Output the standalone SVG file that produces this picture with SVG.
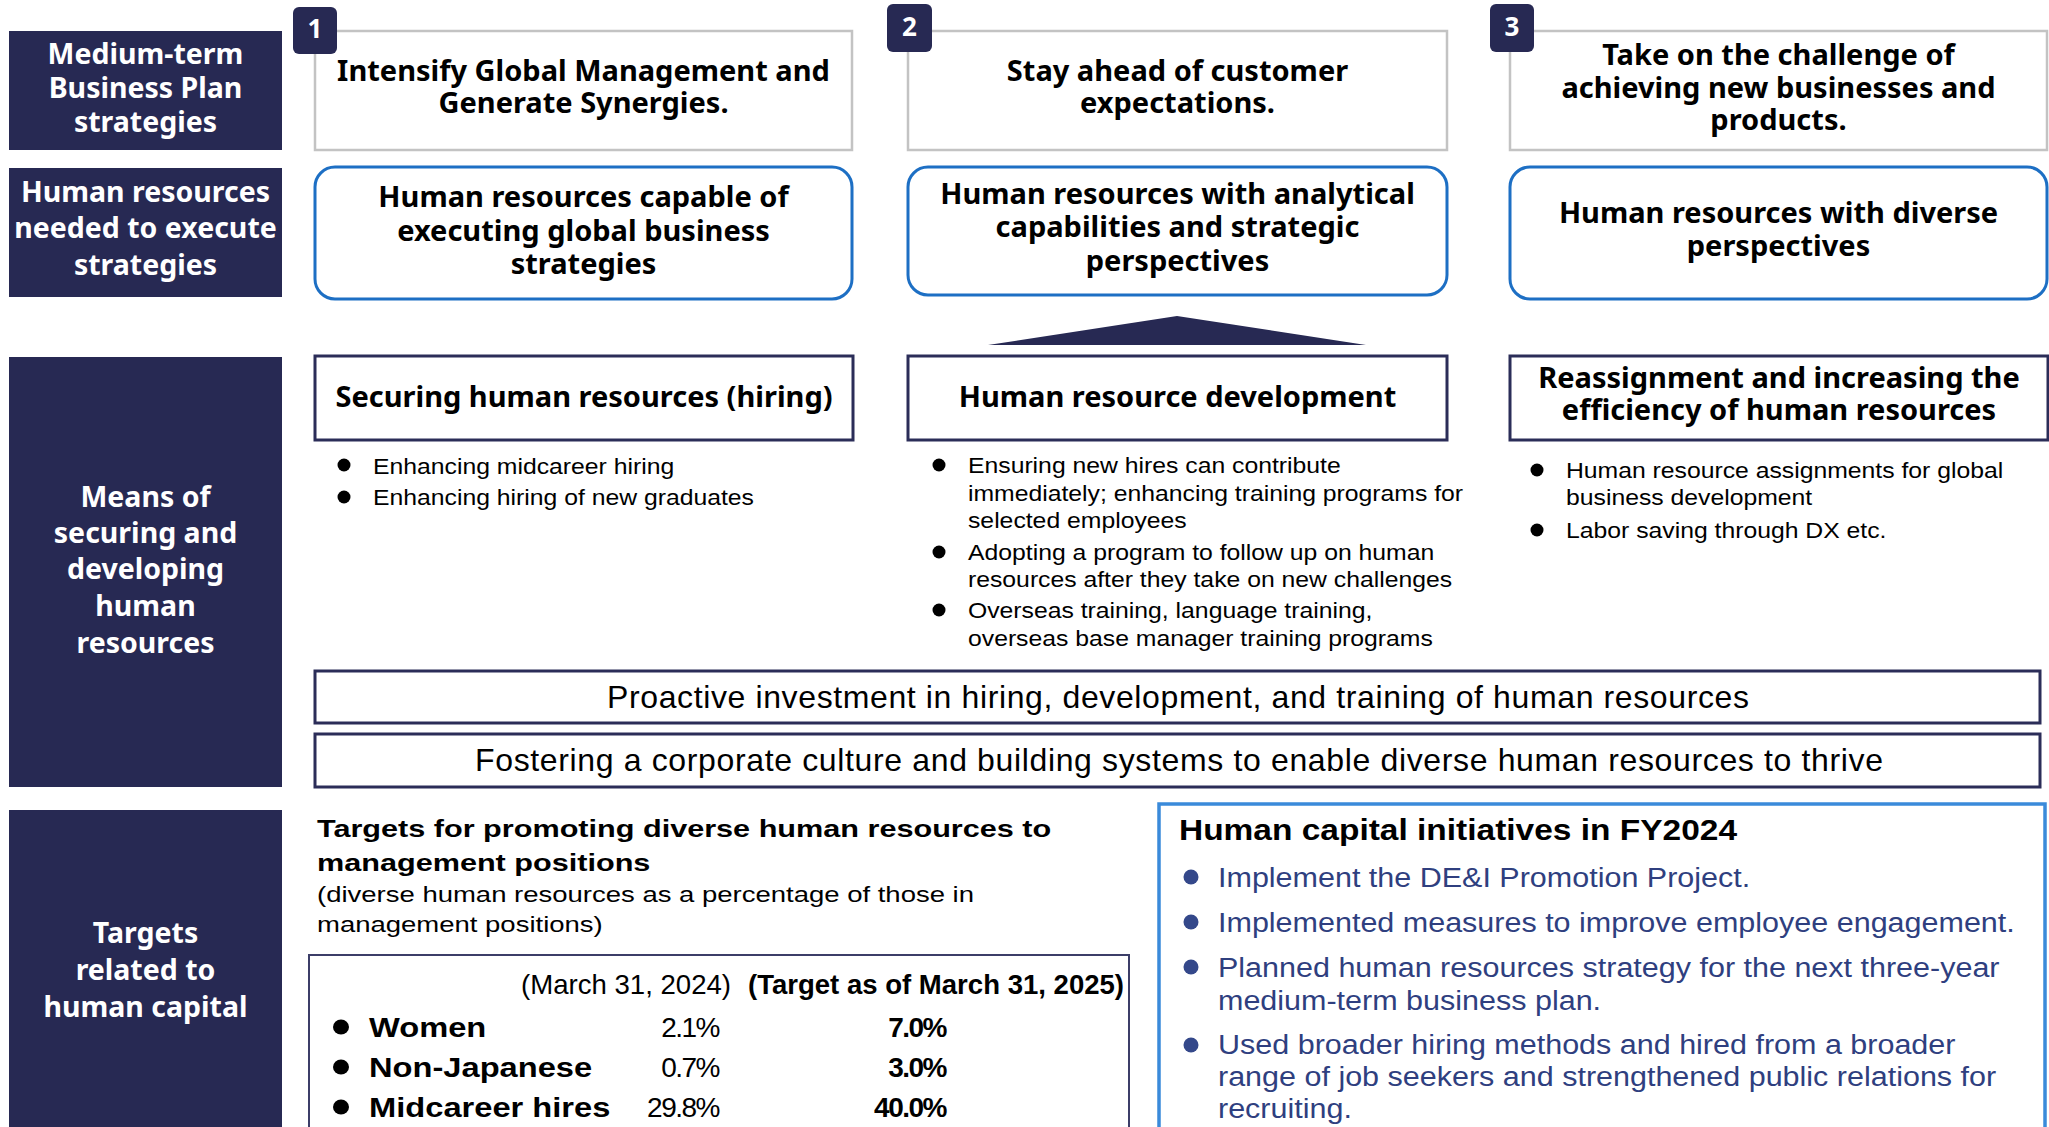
<svg xmlns="http://www.w3.org/2000/svg" width="2049" height="1127" viewBox="0 0 2049 1127">
  <defs>
    <style>
      .side { fill: #272953; }
      .side-t { font-family: "Noto Sans", "Liberation Sans", sans-serif; font-weight: 700; font-size: 28.5px; fill: #ffffff; text-anchor: middle; }
      .plan { fill: #ffffff; stroke: #c3c3c3; stroke-width: 2.5; }
      .badge { fill: #272953; }
      .badge-t { font-family: "Noto Sans", "Liberation Sans", sans-serif; font-weight: 700; font-size: 26px; fill: #ffffff; text-anchor: middle; }
      .head { font-family: "Noto Sans", "Liberation Sans", sans-serif; font-weight: 700; font-size: 29px; fill: #000000; text-anchor: middle; }
      .need { fill: #ffffff; stroke: #1d6fc4; stroke-width: 3; }
      .means { fill: #ffffff; stroke: #2b2d58; stroke-width: 3; }
      .body { font-family: "Liberation Sans", Arial, sans-serif; font-size: 22.5px; fill: #000000; }
      .dot { fill: #000000; }
      .bar-t { font-family: "Liberation Sans", Arial, sans-serif; font-size: 32px; fill: #000000; text-anchor: middle; }
      .tgt-h { font-family: "Liberation Sans", Arial, sans-serif; font-weight: 700; font-size: 24.5px; fill: #000000; }
      .tgt-s { font-family: "Liberation Sans", Arial, sans-serif; font-size: 22px; fill: #000000; }
      .tbl { fill: #ffffff; stroke: #3c3e68; stroke-width: 2; }
      .col-h { font-family: "Liberation Sans", Arial, sans-serif; font-size: 28px; fill: #000000; }
      .row-t { font-family: "Liberation Sans", Arial, sans-serif; font-weight: 700; font-size: 27px; fill: #000000; }
      .val { font-family: "Liberation Sans", Arial, sans-serif; font-size: 28px; fill: #000000; text-anchor: end; letter-spacing: -1.5px; }
      .val-b { font-family: "Liberation Sans", Arial, sans-serif; font-weight: 700; font-size: 28px; fill: #000000; text-anchor: end; letter-spacing: -1.5px; }
      .init { fill: #ffffff; stroke: #3a8ada; stroke-width: 3.5; }
      .init-h { font-family: "Liberation Sans", Arial, sans-serif; font-weight: 700; font-size: 30px; fill: #000000; }
      .init-t { font-family: "Liberation Sans", Arial, sans-serif; font-size: 28px; fill: #2f3f7f; }
      .init-dot { fill: #34488a; }
    </style>
  </defs>

  <rect width="2049" height="1127" fill="#ffffff"/>

  <!-- Row labels on the left -->
  <g id="label-plan">
    <rect class="side" x="9" y="31" width="273" height="119"/>
    <text class="side-t" x="145.5" y="64">Medium-term</text>
    <text class="side-t" x="145.5" y="98">Business Plan</text>
    <text class="side-t" x="145.5" y="132">strategies</text>
  </g>
  <g id="label-needed">
    <rect class="side" x="9" y="168" width="273" height="129"/>
    <text class="side-t" x="145.5" y="202">Human resources</text>
    <text class="side-t" x="145.5" y="238">needed to execute</text>
    <text class="side-t" x="145.5" y="275">strategies</text>
  </g>
  <g id="label-means">
    <rect class="side" x="9" y="357" width="273" height="430"/>
    <text class="side-t" x="145.5" y="507">Means of</text>
    <text class="side-t" x="145.5" y="543">securing and</text>
    <text class="side-t" x="145.5" y="579">developing</text>
    <text class="side-t" x="145.5" y="616">human</text>
    <text class="side-t" x="145.5" y="653">resources</text>
  </g>
  <g id="label-targets">
    <rect class="side" x="9" y="810" width="273" height="317"/>
    <text class="side-t" x="145.5" y="943">Targets</text>
    <text class="side-t" x="145.5" y="980">related to</text>
    <text class="side-t" x="145.5" y="1017">human capital</text>
  </g>

  <!-- Strategy 1 -->
  <g id="strategy-1">
    <rect class="plan" x="315" y="31" width="537" height="119"/>
    <rect class="badge" x="293" y="7" width="44" height="47" rx="6"/>
    <text class="badge-t" x="315" y="38">1</text>
    <text class="head" x="583.5" y="81">Intensify Global Management and</text>
    <text class="head" x="583.5" y="113">Generate Synergies.</text>
  </g>
  <!-- Strategy 2 -->
  <g id="strategy-2">
    <rect class="plan" x="908" y="31" width="539" height="119"/>
    <rect class="badge" x="887" y="4" width="45" height="48" rx="6"/>
    <text class="badge-t" x="909.5" y="36">2</text>
    <text class="head" x="1177.5" y="81">Stay ahead of customer</text>
    <text class="head" x="1177.5" y="113">expectations.</text>
  </g>
  <!-- Strategy 3 -->
  <g id="strategy-3">
    <rect class="plan" x="1510" y="31" width="537" height="119"/>
    <rect class="badge" x="1490" y="4" width="44" height="48" rx="6"/>
    <text class="badge-t" x="1512" y="36">3</text>
    <text class="head" x="1778.5" y="65">Take on the challenge of</text>
    <text class="head" x="1778.5" y="98">achieving new businesses and</text>
    <text class="head" x="1778.5" y="130">products.</text>
  </g>

  <!-- Human resources needed -->
  <g id="need-global">
    <rect class="need" x="315" y="167" width="537" height="132" rx="20"/>
    <text class="head" x="583.5" y="207">Human resources capable of</text>
    <text class="head" x="583.5" y="241">executing global business</text>
    <text class="head" x="583.5" y="274">strategies</text>
  </g>
  <g id="need-analytical">
    <rect class="need" x="908" y="167" width="539" height="128" rx="20"/>
    <text class="head" x="1177.5" y="204">Human resources with analytical</text>
    <text class="head" x="1177.5" y="237">capabilities and strategic</text>
    <text class="head" x="1177.5" y="271">perspectives</text>
  </g>
  <g id="need-diverse">
    <rect class="need" x="1510" y="167" width="537" height="132" rx="20"/>
    <text class="head" x="1778.5" y="223">Human resources with diverse</text>
    <text class="head" x="1778.5" y="256">perspectives</text>
  </g>

  <!-- Upward pointer between the rows -->
  <g id="connectors">
    <polygon points="1177,316 1366,345 988,345" fill="#272953"/>
  </g>

  <!-- Means: hiring -->
  <g id="means-hiring">
    <rect class="means" x="315" y="356" width="538" height="84"/>
    <text class="head" x="584" y="407">Securing human resources (hiring)</text>
    <circle class="dot" cx="344" cy="465" r="6.5"/>
    <circle class="dot" cx="344" cy="497" r="6.5"/>
    <g transform="translate(373 0) scale(1.1 1)">
      <text class="body" x="0" y="474">Enhancing midcareer hiring</text>
      <text class="body" x="0" y="505">Enhancing hiring of new graduates</text>
    </g>
  </g>

  <!-- Means: development -->
  <g id="means-development">
    <rect class="means" x="908" y="356" width="539" height="84"/>
    <text class="head" x="1177.5" y="407">Human resource development</text>
    <circle class="dot" cx="939" cy="465" r="6.5"/>
    <circle class="dot" cx="939" cy="552" r="6.5"/>
    <circle class="dot" cx="939" cy="610" r="6.5"/>
    <g transform="translate(968 0) scale(1.1 1)">
      <text class="body" x="0" y="473">Ensuring new hires can contribute</text>
      <text class="body" x="0" y="501">immediately; enhancing training programs for</text>
      <text class="body" x="0" y="528">selected employees</text>
      <text class="body" x="0" y="560">Adopting a program to follow up on human</text>
      <text class="body" x="0" y="587">resources after they take on new challenges</text>
      <text class="body" x="0" y="618">Overseas training, language training,</text>
      <text class="body" x="0" y="646">overseas base manager training programs</text>
    </g>
  </g>

  <!-- Means: reassignment -->
  <g id="means-reassignment">
    <rect class="means" x="1510" y="356" width="538" height="84"/>
    <text class="head" x="1779" y="388">Reassignment and increasing the</text>
    <text class="head" x="1779" y="420">efficiency of human resources</text>
    <circle class="dot" cx="1537" cy="470" r="6.5"/>
    <circle class="dot" cx="1537" cy="530" r="6.5"/>
    <g transform="translate(1566 0) scale(1.1 1)">
      <text class="body" x="0" y="478">Human resource assignments for global</text>
      <text class="body" x="0" y="505">business development</text>
      <text class="body" x="0" y="538">Labor saving through DX etc.</text>
    </g>
  </g>

  <!-- Cross-cutting bars -->
  <g id="bar-investment">
    <rect class="means" x="315" y="671" width="1725" height="52"/>
    <text class="bar-t" x="1178" y="708" textLength="1142">Proactive investment in hiring, development, and training of human resources</text>
  </g>
  <g id="bar-culture">
    <rect class="means" x="315" y="734" width="1725" height="53"/>
    <text class="bar-t" x="1179" y="771" textLength="1408">Fostering a corporate culture and building systems to enable diverse human resources to thrive</text>
  </g>

  <!-- Management diversity targets -->
  <g id="targets">
    <g transform="translate(317 0) scale(1.25 1)">
      <text class="tgt-h" x="0" y="837">Targets for promoting diverse human resources to</text>
      <text class="tgt-h" x="0" y="871">management positions</text>
      <text class="tgt-s" x="0" y="902">(diverse human resources as a percentage of those in</text>
      <text class="tgt-s" x="0" y="932">management positions)</text>
    </g>
    <rect class="tbl" x="309" y="955" width="820" height="200"/>
    <text class="col-h" x="521" y="994" textLength="210" lengthAdjust="spacingAndGlyphs">(March 31, 2024)</text>
    <text class="col-h" x="748" y="994" font-weight="700" textLength="376" lengthAdjust="spacingAndGlyphs">(Target as of March 31, 2025)</text>
    <ellipse class="dot" cx="341" cy="1027" rx="8" ry="7.5"/>
    <ellipse class="dot" cx="341" cy="1067" rx="8" ry="7.5"/>
    <ellipse class="dot" cx="341" cy="1107" rx="8" ry="7.5"/>
    <g transform="translate(369 0) scale(1.21 1)">
      <text class="row-t" x="0" y="1037">Women</text>
      <text class="row-t" x="0" y="1077">Non-Japanese</text>
      <text class="row-t" x="0" y="1117">Midcareer hires</text>
    </g>
    <text class="val" x="719" y="1037">2.1%</text>
    <text class="val" x="719" y="1077">0.7%</text>
    <text class="val" x="719" y="1117">29.8%</text>
    <text class="val-b" x="946" y="1037">7.0%</text>
    <text class="val-b" x="946" y="1077">3.0%</text>
    <text class="val-b" x="946" y="1117">40.0%</text>
  </g>

  <!-- FY2024 initiatives -->
  <g id="initiatives">
    <rect class="init" x="1159" y="804" width="886" height="340"/>
    <text class="init-h" x="1179" y="840" textLength="558" lengthAdjust="spacingAndGlyphs">Human capital initiatives in FY2024</text>
    <circle class="init-dot" cx="1191" cy="877" r="7.5"/>
    <circle class="init-dot" cx="1191" cy="922" r="7.5"/>
    <circle class="init-dot" cx="1191" cy="967" r="7.5"/>
    <circle class="init-dot" cx="1191" cy="1045" r="7.5"/>
    <g transform="translate(1218 0) scale(1.09 1)">
      <text class="init-t" x="0" y="887">Implement the DE&amp;I Promotion Project.</text>
      <text class="init-t" x="0" y="932">Implemented measures to improve employee engagement.</text>
      <text class="init-t" x="0" y="977">Planned human resources strategy for the next three-year</text>
      <text class="init-t" x="0" y="1010">medium-term business plan.</text>
      <text class="init-t" x="0" y="1054">Used broader hiring methods and hired from a broader</text>
      <text class="init-t" x="0" y="1086">range of job seekers and strengthened public relations for</text>
      <text class="init-t" x="0" y="1118">recruiting.</text>
    </g>
  </g>
</svg>
